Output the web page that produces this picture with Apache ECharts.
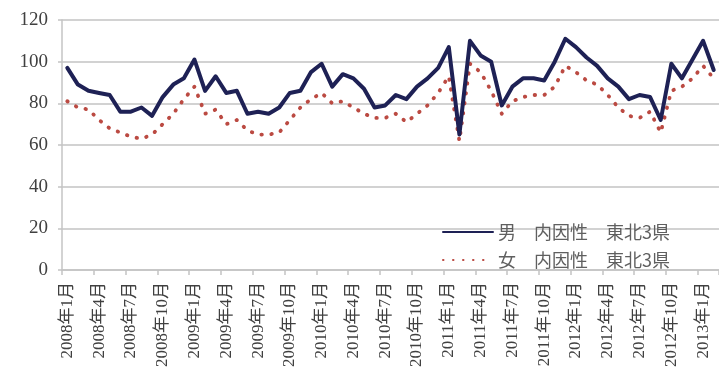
<!DOCTYPE html>
<html>
<head>
<meta charset="utf-8">
<script src="https://cdn.jsdelivr.net/npm/echarts@6/dist/echarts.min.js"></script>
<style>
  html, body { margin: 0; padding: 0; background: #ffffff; }
  #chart { width: 719px; height: 379px; }
</style>
</head>
<body>
<div id="chart"></div>
<script>
// Monthly categories, 2008年1月 – 2013年2月
const months = [];
for (let y = 2008; y <= 2013; y++) {
  for (let m = 1; m <= 12; m++) {
    months.push(y + '年' + m + '月');
  }
}
const categories = months.slice(0, 62);

// 男 内因性 東北3県
const maleValues = [
  97, 89, 86, 85, 84, 76, 76, 78, 74, 83,
  89, 92, 101, 86, 93, 85, 86, 75, 76, 75,
  78, 85, 86, 95, 99, 88, 94, 92, 87, 78,
  79, 84, 82, 88, 92, 97, 107, 65, 110, 103,
  100, 79, 88, 92, 92, 91, 100, 111, 107, 102,
  98, 92, 88, 82, 84, 83, 72, 99, 92, 101,
  110, 96
];

// 女 内因性 東北3県
const femaleValues = [
  81, 78, 77, 72, 68, 66, 64, 63, 65, 70,
  75, 82, 88, 75, 77, 70, 72, 67, 65, 65,
  66, 72, 78, 82, 85, 80, 81, 78, 75, 73,
  73, 75, 71, 75, 79, 85, 93, 62, 99, 95,
  86, 75, 81, 83, 84, 84, 88, 98, 95, 91,
  89, 84, 78, 74, 73, 76, 66, 86, 88, 92,
  98, 92
];

const seriesNames = ['男\u3000内因性\u3000東北3県', '女\u3000内因性\u3000東北3県'];
const yTicks = { min: 0, max: 120, interval: 20 };

const labelFont = '"Liberation Serif", "Noto Sans CJK JP", serif';

const chart = echarts.init(document.getElementById('chart'), null, { renderer: 'canvas' });
chart.setOption({
  backgroundColor: '#ffffff',
  animation: false,
  grid: { left: 62, top: 20, width: 660, height: 250, containLabel: false },
  legend: {
    orient: 'vertical',
    left: 442,
    top: 222,
    padding: 0,
    itemWidth: 50,
    itemHeight: 12,
    itemGap: 8,
    itemStyle: { opacity: 0 },
    textStyle: { fontSize: 18, lineHeight: 20, color: '#5f5f5f', fontFamily: '"Noto Sans CJK JP", sans-serif' },
    data: seriesNames
  },
  xAxis: {
    type: 'category',
    data: categories,
    boundaryGap: true,
    axisLine: { show: true, lineStyle: { color: '#c4c4c4', width: 1.5 } },
    axisTick: { show: true, interval: 2, length: 5, alignWithLabel: false, lineStyle: { color: '#c4c4c4', width: 1.5 } },
    axisLabel: {
      interval: 2,
      rotate: 90,
      margin: 12,
      fontSize: 17,
      color: '#404040',
      fontFamily: labelFont
    },
    splitLine: { show: false }
  },
  yAxis: {
    type: 'value',
    min: yTicks.min,
    max: yTicks.max,
    interval: yTicks.interval,
    axisLine: { show: true, lineStyle: { color: '#c4c4c4', width: 1.5 } },
    axisTick: { show: true, length: 4, lineStyle: { color: '#c4c4c4', width: 1.5 } },
    axisLabel: { margin: 14, fontSize: 19, color: '#404040', fontFamily: labelFont },
    splitLine: { show: true, lineStyle: { color: '#d2d2d2', width: 1.8 } }
  },
  series: [
    {
      name: seriesNames[0],
      type: 'line',
      data: maleValues,
      symbol: 'none',
      showSymbol: false,
      lineStyle: { color: '#1e2155', width: 4, join: 'round', cap: 'round' },
      itemStyle: { color: '#1e2155' },
      z: 3
    },
    {
      name: seriesNames[1],
      type: 'line',
      data: femaleValues,
      symbol: 'none',
      showSymbol: false,
      lineStyle: { color: '#bb4a42', width: 3.8, type: [0.5, 9.5], cap: 'round', join: 'round' },
      itemStyle: { color: '#bb4a42' },
      z: 2
    }
  ]
});
</script>
</body>
</html>
